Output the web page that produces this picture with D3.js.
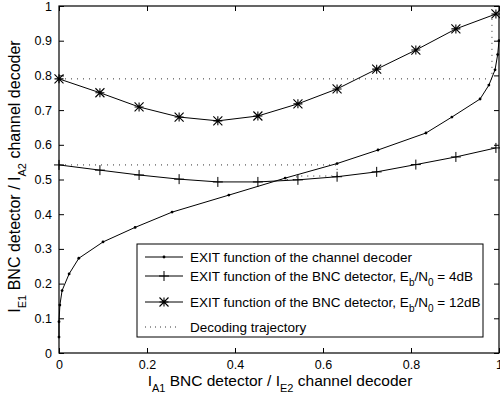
<!DOCTYPE html>
<html>
<head>
<meta charset="utf-8">
<script src="https://cdn.jsdelivr.net/npm/d3@7"></script>
<style>
  body { margin: 0; background: #fff; }
  text { font-family: "Liberation Sans", Arial, Helvetica, sans-serif; fill: #000; }
</style>
</head>
<body>
<div id="chart"></div>
<script>
// EXIT chart data
var chanX = [0, 0, 0.002, 0.007, 0.023, 0.045, 0.1, 0.173, 0.257, 0.386, 0.514, 0.632, 0.725, 0.834, 0.893, 0.957, 0.977, 0.991, 0.997, 1];
var chanY = [0.046, 0.09, 0.138, 0.18, 0.228, 0.273, 0.32, 0.362, 0.406, 0.455, 0.504, 0.546, 0.585, 0.634, 0.68, 0.732, 0.772, 0.816, 0.86, 0.9];

var bncX = [0, 0.093, 0.182, 0.273, 0.361, 0.452, 0.543, 0.632, 0.722, 0.811, 0.902, 0.993];
var bnc4Y = [0.542, 0.527, 0.513, 0.501, 0.493, 0.493, 0.499, 0.508, 0.522, 0.543, 0.565, 0.591];
var bnc12Y = [0.790, 0.750, 0.709, 0.680, 0.669, 0.683, 0.718, 0.761, 0.818, 0.873, 0.934, 0.977];

var traj4X = [0, 0.632, 0.632, 0.54, 0.54, 0.505];
var traj4Y = [0.542, 0.542, 0.51, 0.51, 0.5, 0.5];
var traj12X = [0, 0.984, 0.984, 0.998];
var traj12Y = [0.79, 0.79, 0.975, 0.975];

var xTicks = [0, 0.2, 0.4, 0.6, 0.8, 1];
var yTicks = [0, 0.1, 0.2, 0.3, 0.4, 0.5, 0.6, 0.7, 0.8, 0.9, 1];

var svg_width = 500, svg_height = 405;
var margin = { top: 6, right: 1, bottom: 52, left: 59 };
var width = svg_width - margin.left - margin.right;
var height = svg_height - margin.top - margin.bottom;

var svg = d3.select("#chart").append("svg")
    .attr("width", svg_width)
    .attr("height", svg_height);

var chart = svg.append("g")
    .attr("transform", `translate(${margin.left}, ${margin.top})`);

var x = d3.scaleLinear().domain([0, 1]).range([0, width]);
var y = d3.scaleLinear().domain([0, 1]).range([height, 0]);

// axes with inward ticks on all sides
function styleAxis(g) {
    g.select(".domain").remove();
    g.selectAll("line").attr("stroke", "#000");
    g.selectAll("text").style("font-size", "12.5px").style("font-family", "Liberation Sans, Arial, sans-serif");
}
chart.append("g").attr("transform", `translate(0, ${height})`)
    .call(d3.axisBottom(x).tickValues(xTicks).tickSizeInner(-5).tickSizeOuter(0).tickPadding(7).tickFormat(d3.format("")))
    .call(styleAxis);
chart.append("g")
    .call(d3.axisLeft(y).tickValues(yTicks).tickSizeInner(-5).tickSizeOuter(0).tickPadding(7).tickFormat(d3.format("")))
    .call(styleAxis);
chart.append("g")
    .call(d3.axisTop(x).tickValues(xTicks).tickSizeInner(-5).tickSizeOuter(0).tickFormat(""))
    .call(styleAxis);
chart.append("g").attr("transform", `translate(${width}, 0)`)
    .call(d3.axisRight(y).tickValues(yTicks).tickSizeInner(-5).tickSizeOuter(0).tickFormat(""))
    .call(styleAxis);

chart.append("rect")
    .attr("width", width).attr("height", height)
    .attr("fill", "none").attr("stroke", "#000").attr("stroke-width", 1.2);

var line = d3.line().x(d => x(d[0])).y(d => y(d[1]));
function zip(a, b) { return a.map((v, i) => [v, b[i]]); }

// decoding trajectories
[zip(traj4X, traj4Y), zip(traj12X, traj12Y)].forEach(function(t) {
    chart.append("path").datum(t).attr("d", line)
        .attr("fill", "none").attr("stroke", "#333").attr("stroke-width", 1)
        .attr("stroke-dasharray", "1,5");
});

var chan = zip(chanX, chanY);
var b4 = zip(bncX, bnc4Y);
var b12 = zip(bncX, bnc12Y);

[chan, b4, b12].forEach(function(s) {
    chart.append("path").datum(s).attr("d", line)
        .attr("fill", "none").attr("stroke", "#000").attr("stroke-width", 1);
});

// markers
function dotMark(g, px, py) {
    g.append("circle").attr("cx", px).attr("cy", py).attr("r", 1.4).attr("fill", "#000");
}
function plusMark(g, px, py) {
    g.append("path").attr("d", `M${px - 5},${py}H${px + 5}M${px},${py - 5}V${py + 5}`)
        .attr("stroke", "#000").attr("stroke-width", 1);
}
function starMark(g, px, py) {
    var s = 4.5;
    g.append("path")
        .attr("d", `M${px - s},${py}H${px + s}M${px},${py - s}V${py + s}M${px - s},${py - s}L${px + s},${py + s}M${px - s},${py + s}L${px + s},${py - s}`)
        .attr("stroke", "#000").attr("stroke-width", 1.1);
}
chan.forEach(d => dotMark(chart, x(d[0]), y(d[1])));
b4.forEach(d => plusMark(chart, x(d[0]), y(d[1])));
b12.forEach(d => starMark(chart, x(d[0]), y(d[1])));

// axis labels
var xl = svg.append("text")
    .attr("x", margin.left + width / 2 + 1).attr("y", 386)
    .attr("text-anchor", "middle").style("font-size", "15.5px");
xl.append("tspan").text("I");
xl.append("tspan").attr("dy", 6).style("font-size", "11px").text("A1");
xl.append("tspan").attr("dy", -6).text(" BNC detector / I");
xl.append("tspan").attr("dy", 6).style("font-size", "11px").text("E2");
xl.append("tspan").attr("dy", -6).text(" channel decoder");

var yl = svg.append("text")
    .attr("transform", `translate(20, ${margin.top + height / 2 - 3}) rotate(-90)`)
    .attr("text-anchor", "middle").style("font-size", "16px");
yl.append("tspan").text("I");
yl.append("tspan").attr("dy", 6).style("font-size", "11px").text("E1");
yl.append("tspan").attr("dy", -6).text(" BNC detector / I");
yl.append("tspan").attr("dy", 6).style("font-size", "11px").text("A2");
yl.append("tspan").attr("dy", -6).text(" channel decoder");

// legend
var lg = svg.append("g");
lg.append("rect").attr("x", 137).attr("y", 244).attr("width", 346).attr("height", 93)
    .attr("fill", "#fff").attr("stroke", "#000").attr("stroke-width", 1);

var legendRows = [
    { y: 257, mark: dotMark, main: "EXIT function of the channel decoder", db: null },
    { y: 276, mark: plusMark, main: "EXIT function of the BNC detector, E", db: " = 4dB" },
    { y: 302, mark: starMark, main: "EXIT function of the BNC detector, E", db: " = 12dB" },
    { y: 327, mark: null, main: "Decoding trajectory", db: null }
];
legendRows.forEach(function(r) {
    if (r.mark) {
        lg.append("line").attr("x1", 145).attr("x2", 183).attr("y1", r.y).attr("y2", r.y)
            .attr("stroke", "#000").attr("stroke-width", 1);
        r.mark(lg, 164, r.y);
    } else {
        lg.append("line").attr("x1", 145).attr("x2", 180).attr("y1", r.y).attr("y2", r.y)
            .attr("stroke", "#333").attr("stroke-width", 1).attr("stroke-dasharray", "1,4");
    }
    var t = lg.append("text").attr("x", 190).attr("y", r.y + 5).style("font-size", "13.5px");
    t.append("tspan").text(r.main);
    if (r.db) {
        t.append("tspan").attr("dy", 5).style("font-size", "10px").text("b");
        t.append("tspan").attr("dy", -5).text("/N");
        t.append("tspan").attr("dy", 5).style("font-size", "10px").text("0");
        t.append("tspan").attr("dy", -5).text(r.db);
    }
});
</script>
</body>
</html>
